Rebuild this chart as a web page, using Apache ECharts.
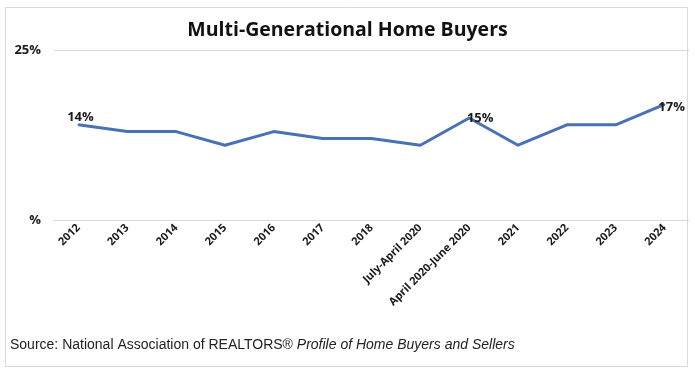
<!DOCTYPE html>
<html><head><meta charset="utf-8">
<script src="https://cdn.jsdelivr.net/npm/echarts@6/dist/echarts.min.js"></script>
<style>html,body{margin:0;padding:0;background:#fff}#c{width:695px;height:380px}</style>
</head><body><div id="c"></div>
<script>
var categories = ['2012','2013','2014','2015','2016','2017','2018','July-April 2020','April 2020-June 2020','2021','2022','2023','2024'];
var values = [14,13,13,11,13,12,12,11,15,11,14,14,17];
var labeled = {0:[2,5], 8:[11,13], 12:[7,15]};
var yTicks = {0:'%', 25:'25%'};

var chart = echarts.init(document.getElementById('c'), null, {renderer:'canvas'});
var data = values.map(function(v,i){
  var o = {value:v};
  if (labeled[i]) { o.label = {offset:labeled[i]}; }
  return o;
});
chart.setOption({
  animation:false,
  title:{text:'Multi-Generational Home Buyers', left:'center', top:15,
    textStyle:{fontFamily:'Open Sans', fontWeight:'bold', fontSize:19.5, color:'#111'}},
  graphic:[
    {type:'rect', shape:{x:5.5,y:7.5,width:682,height:359}, style:{fill:null, stroke:'#d9d9d9', lineWidth:1}, z:-1},
    {type:'text', left:10, top:338, style:{rich:{a:{fontFamily:'Liberation Sans', fontSize:14, fill:'#222'}, b:{fontFamily:'Liberation Sans', fontSize:14, fontStyle:'italic', fill:'#222'}}, text:'{a|Source: National Association of REALTORS® }{b|Profile of Home Buyers and Sellers}'}}
  ],
  grid:{left:54, right:6, top:50, bottom:160},
  xAxis:{type:'category', data:categories, boundaryGap:true,
    axisLine:{show:true, lineStyle:{color:'#d9d9d9'}}, axisTick:{show:false},
    axisLabel:{rotate:45, interval:0, margin:6, fontFamily:'Open Sans', fontWeight:'bold', fontSize:11, color:'#1a1a1a'}},
  yAxis:{type:'value', min:0, max:25, interval:25,
    axisLine:{show:false}, axisTick:{show:false},
    splitLine:{lineStyle:{color:'#d9d9d9'}},
    axisLabel:{margin:13, fontFamily:'Open Sans', fontWeight:'bold', fontSize:13, color:'#1a1a1a',
      formatter:function(v){return yTicks[v];}}},
  series:[{type:'line', data:data, symbol:'circle', symbolSize:2, showSymbol:true,
    lineStyle:{color:'#4a70b6', width:3}, itemStyle:{color:'#4a70b6'},
    label:{show:true, position:'top', fontFamily:'Open Sans', fontWeight:'bold', fontSize:13, color:'#1a1a1a',
      formatter:function(p){return labeled[p.dataIndex] ? p.value + '%' : '';}}}]
});
</script></body></html>
